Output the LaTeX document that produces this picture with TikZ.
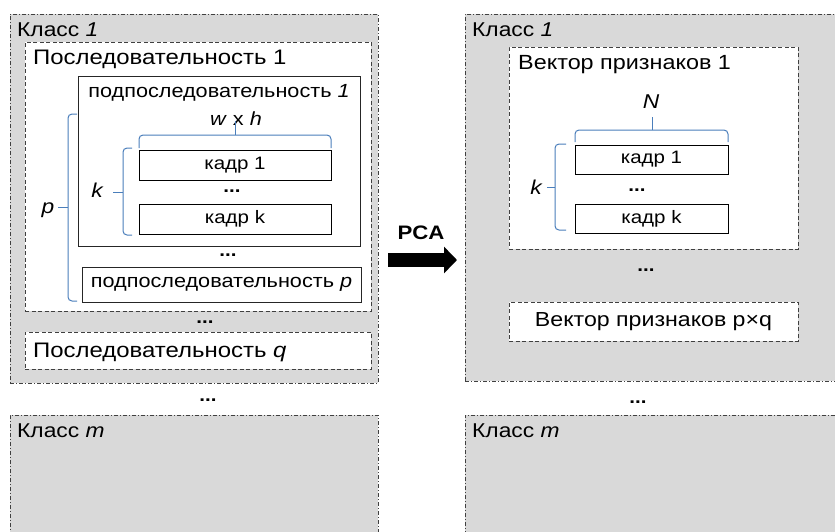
\documentclass[tikz,border=0pt]{standalone}
\usepackage{fontspec}
\setmainfont[FakeStretch=1.14]{Liberation Sans}
\usetikzlibrary{calc,arrows.meta}
\definecolor{cls}{HTML}{D9D9D9}
\definecolor{brd}{HTML}{404040}
\definecolor{brc}{HTML}{4A7EBB}
\begin{document}
\begin{tikzpicture}[x=1pt,y=-1pt,
 box/.style={draw=brd, line width=0.8pt, anchor=north west, inner sep=0pt, outer sep=0pt},
 classbox/.style={box, fill=cls, dash pattern=on 4pt off 2pt on 1pt off 2pt},
 seqbox/.style={box, fill=white, dash pattern=on 4pt off 2.5pt},
 subbox/.style={box, fill=white, draw=black!85, line width=0.9pt},
 framebox/.style={box, fill=white, draw=black, line width=0.8pt},
 lbl/.style={anchor=base west, inner sep=0pt},
 clbl/.style={anchor=base, inner sep=0pt},
 clsf/.style={font=\fontsize{20}{24}\selectfont},
 bigf/.style={font=\fontsize{21}{25}\selectfont},
 midf/.style={font=\fontsize{19}{22}\selectfont},
 smf/.style={font=\fontsize{18}{21}\selectfont},
 itf/.style={font=\itshape\fontsize{20}{24}\selectfont},
 bracepath/.style={draw=brc, line width=1pt, rounded corners=4pt},
 dots/.style={font=\bfseries\fontsize{18}{20}\selectfont, inner sep=0pt}
]
\useasboundingbox (0,0) rectangle (835,531);
\begin{scope}
\clip (0,0) rectangle (835,531);
% ---------- left column ----------
\node (c1) [classbox, minimum width=368, minimum height=369] at (10,14) {};
\node (c1t) [lbl, clsf] at (17,36) {Класс \textit{1}};
\node (s1) [seqbox, minimum width=346, minimum height=269] at (25,42) {};
\node (s1t) [lbl, bigf] at (33,64) {Последовательность 1};
\node (sub1) [subbox, minimum width=282, minimum height=170] at (78,76) {};
\node (sub1t) [clbl, midf] at (219,97) {подпоследовательность \textit{1}};
\node (wh) [clbl, midf] at (236,125) {\textit{w} x \textit{h}};
\node (f1) [framebox, minimum width=192, minimum height=30] at (139,150) {};
\node [smf] at (f1.center) {кадр 1};
\node (d1) [dots] at (232,191) {...};
\node (fk) [framebox, minimum width=192, minimum height=30] at (139,204) {};
\node [smf] at (fk.center) {кадр k};
\node (kl) [clbl, itf] at (97,197) {k};
\node (pl) [clbl, itf] at (48,213) {p};
\node (d2) [dots] at (228,255) {...};
\node (subp) [subbox, minimum width=279, minimum height=35] at (82,267) {};
\node [midf] at (subp.center) {подпоследовательность \textit{p}};
\node (d3) [dots] at (205,322) {...};
\node (sq) [seqbox, minimum width=346, minimum height=37] at (25,332) {};
\node [lbl, bigf] at (33,357) {Последовательность \textit{q}};
\node (d4) [dots] at (208,400) {...};
\node (cm) [classbox, minimum width=368, minimum height=200] at (10,415) {};
\node [lbl, clsf] at (17,437) {Класс \textit{m}};
% braces left
\draw[bracepath] (139,148) -- (139,135) -- (331,135) -- (331,148);
\draw[bracepath] (235,135) -- (235,121);
\draw[bracepath] (132,148) -- (123,148) -- (123,235) -- (132,235);
\draw[bracepath] (123,192) -- (113,192);
\draw[bracepath] (77,114) -- (68,114) -- (68,301) -- (77,301);
\draw[bracepath] (68,207) -- (58,207);
% ---------- right column ----------
\node (r1) [classbox, minimum width=400, minimum height=367] at (465,14) {};
\node [lbl, clsf] at (472,36) {Класс \textit{1}};
\node (v1) [seqbox, minimum width=289, minimum height=202] at (509,47) {};
\node [lbl, font=\fontsize{20.5}{24}\selectfont] at (518,69) {Вектор признаков 1};
\node (Nl) [clbl, itf] at (651,108) {N};
\node (rf1) [framebox, minimum width=153, minimum height=29] at (575,145) {};
\node [smf] at (rf1.center) {кадр 1};
\node (rd1) [dots] at (637,190) {...};
\node (rfk) [framebox, minimum width=153, minimum height=29] at (575,204) {};
\node [smf] at (rfk.center) {кадр k};
\node (rkl) [clbl, itf] at (536,194) {k};
\node (rd2) [dots] at (646,270) {...};
\node (vpq) [seqbox, minimum width=289, minimum height=39] at (509,302) {};
\node [font=\fontsize{20.3}{24}\selectfont] at (vpq.center) {Вектор признаков p×q};
\node (rd3) [dots] at (638,402) {...};
\node (rm) [classbox, minimum width=400, minimum height=200] at (465,415) {};
\node [lbl, clsf] at (472,437) {Класс \textit{m}};
% braces right
\draw[bracepath] (575,142) -- (575,130) -- (728,130) -- (728,142);
\draw[bracepath] (652,130) -- (652,117);
\draw[bracepath] (566,144) -- (555,144) -- (555,230) -- (566,230);
\draw[bracepath] (555,187) -- (547,187);
% ---------- PCA arrow ----------
\coordinate (a1) at (388,260);
\coordinate (a2) at (457,260);
\draw[line width=14pt, -{Triangle[length=13pt,width=26pt]}] (a1) -- (a2);
\node (pca) [font=\bfseries\fontsize{19.5}{23}\selectfont, inner sep=0pt] at (421,233) {PCA};
\end{scope}
\end{tikzpicture}
\end{document}
